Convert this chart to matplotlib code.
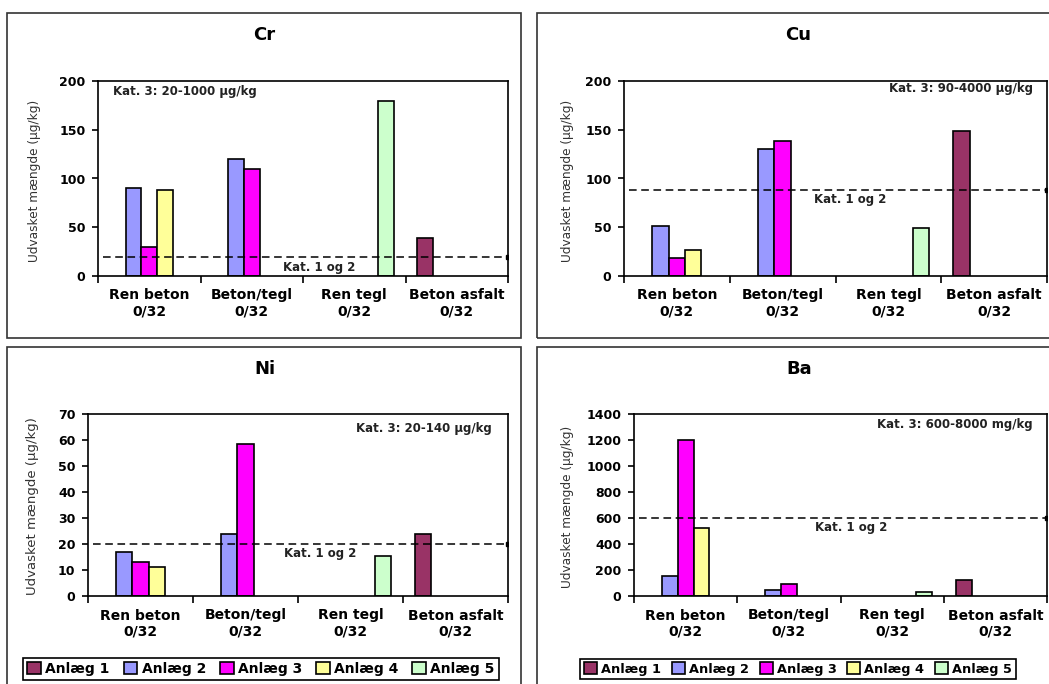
import numpy as np
import matplotlib
matplotlib.use('Agg')
import matplotlib.pyplot as plt
from matplotlib.patches import Rectangle, Patch

plt.rcParams['font.family'] = ['DejaVu Sans']

W, H = 1049, 684

categories = ['Ren beton\n0/32', 'Beton/tegl\n0/32', 'Ren tegl\n0/32', 'Beton asfalt\n0/32']
series = ['Anlæg 1', 'Anlæg 2', 'Anlæg 3', 'Anlæg 4', 'Anlæg 5']
colors = ['#993366', '#9999FF', '#FF00FF', '#FFFF99', '#CCFFCC']
nan = np.nan

# rows: Anlæg 1..5, columns: categories
cr_vals = [[nan, nan, nan, 39],
           [90, 120, nan, nan],
           [30, 110, nan, nan],
           [88, nan, nan, nan],
           [nan, nan, 180, nan]]
cu_vals = [[nan, nan, nan, 149],
           [51, 130, nan, nan],
           [18, 138, nan, nan],
           [27, nan, nan, nan],
           [nan, nan, 49, nan]]
ni_vals = [[nan, nan, nan, 24],
           [17, 24, nan, nan],
           [13, 58.5, nan, nan],
           [11, nan, nan, nan],
           [nan, nan, 15.5, nan]]
ba_vals = [[nan, nan, nan, 122],
           [155, 46, nan, nan],
           [1200, 90, nan, nan],
           [520, nan, nan, nan],
           [nan, nan, 31, nan]]

cr_limit, cu_limit, ni_limit, ba_limit = 19, 88, 20, 600
cr_kat = 'Kat. 3: 20-1000 µg/kg'
cu_kat = 'Kat. 3: 90-4000 µg/kg'
ni_kat = 'Kat. 3: 20-140 µg/kg'
ba_kat = 'Kat. 3: 600-8000 mg/kg'
ylabel = 'Udvasket mængde (µg/kg)'

fig = plt.figure(figsize=(W / 100, H / 100), dpi=100)


def px_rect(x0, y0, x1, y1):
    return [x0 / W, 1 - y1 / H, (x1 - x0) / W, (y1 - y0) / H]


def frame(x0, y0, x1, y1):
    fig.add_artist(Rectangle((x0 / W, 1 - y1 / H), (x1 - x0) / W, (y1 - y0) / H,
                             transform=fig.transFigure, fill=False,
                             edgecolor='#333333', linewidth=1.2))


def panel(box, title, title_xy, vals, limit, ymax, ystep, kat, kat_pos, kat_ha,
          ylab_xy, ylab_size, kat12_x):
    ax = fig.add_axes(px_rect(*box))
    w = 1 / 6.5
    for i, name in enumerate(series):
        v = np.array(vals[i], dtype=float)
        idx = np.where(~np.isnan(v))[0]
        ax.bar(idx + (i - 2) * w, v[idx], w, color=colors[i],
               edgecolor='black', linewidth=1.2, zorder=2)
    ax.set_xlim(-0.5, 3.5)
    ax.set_ylim(0, ymax)
    ax.set_yticks(np.arange(0, ymax + 1, ystep))
    ax.set_xticks([-0.5, 0.5, 1.5, 2.5, 3.5])
    ax.set_xticklabels([])
    ax.set_xticks(range(4), minor=True)
    ax.set_xticklabels(categories, minor=True, fontsize=10, fontweight='bold')
    ax.tick_params(axis='x', which='major', direction='out', length=5, width=1.2)
    ax.tick_params(axis='x', which='minor', length=0, pad=9)
    ax.tick_params(axis='y', direction='out', length=4, width=1.2, pad=5,
                   labelsize=9)
    for lab in ax.get_yticklabels():
        lab.set_fontweight('bold')
    for s in ax.spines.values():
        s.set_linewidth(1.2)
    ln, = ax.plot([-0.45, 3.5], [limit, limit], color='black', lw=1.1, zorder=3,
                  marker='s', markersize=2.5, markevery=[1])
    ln.set_dashes((5, 3))
    ax.annotate('Kat. 1 og 2', xy=(kat12_x, limit),
                xycoords=('axes fraction', 'data'), xytext=(0, -7),
                textcoords='offset points', ha='center', va='center',
                fontsize=8.5, fontweight='bold', color='#222222')
    ax.text(kat_pos[0], kat_pos[1], kat, transform=ax.transAxes, ha=kat_ha,
            va='center', fontsize=8.5, fontweight='bold', color='#222222')
    fig.text(title_xy[0] / W, 1 - title_xy[1] / H, title, ha='center',
             va='center', fontsize=13, fontweight='bold')
    fig.text(ylab_xy[0] / W, 1 - ylab_xy[1] / H, ylabel, rotation=90,
             ha='center', va='center', fontsize=ylab_size, color='#333333')
    return ax


frame(7, 13, 521, 338)
frame(537, 13, 1070, 338)
frame(7, 347, 521, 700)
frame(537, 347, 1070, 700)

panel((98, 81, 508, 276), 'Cr', (264, 35), cr_vals, cr_limit, 200, 50, cr_kat,
      (0.037, 0.944), 'left', (35, 181), 8.7, 0.54)
panel((624, 81, 1047, 276), 'Cu', (798, 35), cu_vals, cu_limit, 200, 50, cu_kat,
      (0.967, 0.959), 'right', (567, 181), 8.7, 0.534)
panel((88, 414, 508, 596), 'Ni', (265, 369), ni_vals, ni_limit, 70, 10, ni_kat,
      (0.962, 0.918), 'right', (33, 506), 9.5, 0.552)
panel((634, 414, 1047, 596), 'Ba', (799, 369), ba_vals, ba_limit, 1400, 200, ba_kat,
      (0.964, 0.94), 'right', (567, 507), 8.7, 0.525)

handles = [Patch(facecolor=c, edgecolor='black', linewidth=1.2) for c in colors]
for cx, size, cs in [(261, 10, 1.0), (798, 9.3, 0.85)]:
    fig.legend(handles, series, loc='center', bbox_to_anchor=(cx / W, 1 - 669 / H),
               ncol=5, frameon=True, fancybox=False, edgecolor='black',
               framealpha=1, handlelength=1.0, handleheight=1.0,
               handletextpad=0.3, columnspacing=cs, borderpad=0.3,
               prop={'size': size, 'weight': 'bold'}).get_frame().set_linewidth(1.2)

fig.savefig('out.png', dpi=100)
